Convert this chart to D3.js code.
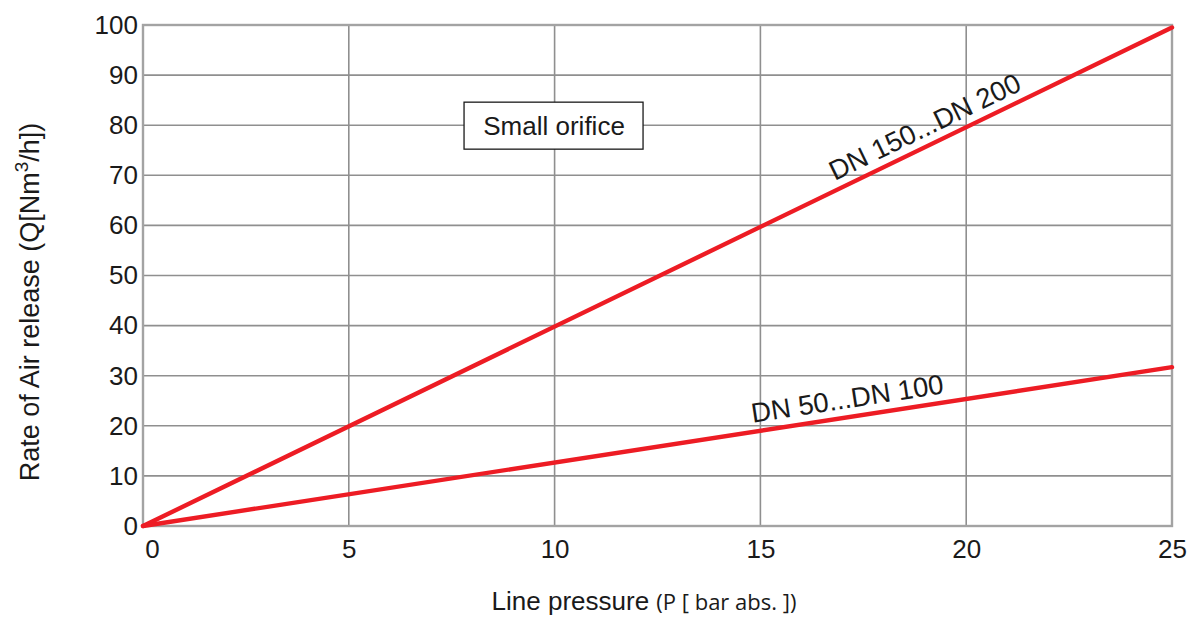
<!DOCTYPE html>
<html>
<head>
<meta charset="utf-8">
<script src="https://cdn.jsdelivr.net/npm/d3@7"></script>
<style>
  body { margin: 0; background: #fff; }
  svg { display: block; }
</style>
</head>
<body>
<script>
// chart data
var xTicks = [0, 5, 10, 15, 20, 25];
var yTicks = [0, 10, 20, 30, 40, 50, 60, 70, 80, 90, 100];
var seriesNames = ["DN 150...DN 200", "DN 50...DN 100"];
var pressure = [0, 25];
var flowLarge = [0, 99.5];
var flowSmall = [0, 31.7];
var labelAt = [16.9, 14.85];   // x value where each line label starts

var svgWidth = 1200, svgHeight = 617;
var margin = { top: 25, right: 28, bottom: 91, left: 143 };
var chartWidth = svgWidth - margin.left - margin.right;
var chartHeight = svgHeight - margin.top - margin.bottom;

var svg = d3.select("body").append("svg")
  .attr("width", svgWidth)
  .attr("height", svgHeight)
  .attr("font-family", "'Liberation Sans', Arial, sans-serif");

var g = svg.append("g")
  .attr("transform", `translate(${margin.left}, ${margin.top})`);

var x = d3.scaleLinear().domain([0, 25]).range([0, chartWidth]);
var y = d3.scaleLinear().domain([0, 100]).range([chartHeight, 0]);

// grid
g.append("g")
  .selectAll("line.v")
  .data(xTicks)
  .enter().append("line")
  .attr("x1", d => x(d)).attr("x2", d => x(d))
  .attr("y1", 0).attr("y2", chartHeight)
  .attr("stroke", "#8f8f8f")
  .attr("stroke-width", 1.6);

g.append("g")
  .selectAll("line.h")
  .data(yTicks)
  .enter().append("line")
  .attr("x1", 0).attr("x2", chartWidth)
  .attr("y1", d => y(d)).attr("y2", d => y(d))
  .attr("stroke", "#8f8f8f")
  .attr("stroke-width", 1.6);

// frame
g.append("rect")
  .attr("width", chartWidth).attr("height", chartHeight)
  .attr("fill", "none")
  .attr("stroke", "#a3a3a3")
  .attr("stroke-width", 2.4);

// axes (labels only)
var bottomAxis = d3.axisBottom(x).tickValues(xTicks).tickSize(0).tickPadding(14);
var leftAxis = d3.axisLeft(y).tickValues(yTicks).tickSize(0).tickPadding(5);

var xa = g.append("g")
  .attr("transform", `translate(0, ${chartHeight})`)
  .call(bottomAxis);
var ya = g.append("g").call(leftAxis);

[xa, ya].forEach(function(a) {
  a.select(".domain").remove();
  a.selectAll("text")
    .attr("font-size", 26)
    .attr("font-family", "'Liberation Sans', Arial, sans-serif")
    .attr("fill", "#1a1a1a");
});
xa.selectAll("text").filter(d => d === 0).attr("dx", 9);

// lines
var line = d3.line().x(d => x(d[0])).y(d => y(d[1]));
var series = [d3.zip(pressure, flowLarge), d3.zip(pressure, flowSmall)];

g.selectAll("path.series")
  .data(series)
  .enter().append("path")
  .attr("d", line)
  .attr("fill", "none")
  .attr("stroke", "#ed1c24")
  .attr("stroke-width", 4.4)
  .attr("stroke-linecap", "round");

// labels along lines
series.forEach(function(s, i) {
  var slope = (y(s[1][1]) - y(s[0][1])) / (x(s[1][0]) - x(s[0][0]));
  var angle = Math.atan(slope) * 180 / Math.PI;
  var lx = labelAt[i];
  var ly = s[0][1] + (s[1][1] - s[0][1]) * (lx - s[0][0]) / (s[1][0] - s[0][0]);
  g.append("text")
    .attr("transform", `translate(${x(lx)}, ${y(ly)}) rotate(${angle})`)
    .attr("dy", -9)
    .attr("font-size", 27.5)
    .attr("fill", "#1a1a1a")
    .text(seriesNames[i]);
});

// "Small orifice" box
var box = g.append("g").attr("transform", `translate(${x(7.8)}, ${y(84.6)})`);
box.append("rect")
  .attr("width", 179).attr("height", 47)
  .attr("fill", "#fff")
  .attr("stroke", "#1a1a1a")
  .attr("stroke-width", 1.3);
box.append("text")
  .attr("x", 90).attr("y", 33)
  .attr("text-anchor", "middle")
  .attr("font-size", 26)
  .attr("fill", "#1a1a1a")
  .text("Small orifice");

// axis titles
var xt = svg.append("text")
  .attr("x", 644).attr("y", 610)
  .attr("text-anchor", "middle")
  .attr("fill", "#1a1a1a");
xt.append("tspan").attr("font-size", 26).text("Line pressure ");
xt.append("tspan")
  .attr("font-size", 22)
  .attr("font-family", "'Open Sans', 'Noto Sans', sans-serif")
  .text("(P [ bar abs. ])");

var yt = svg.append("text")
  .attr("transform", "translate(39, 302) rotate(-90)")
  .attr("text-anchor", "middle")
  .attr("font-size", 27)
  .attr("fill", "#1a1a1a");
yt.append("tspan").text("Rate of Air release (Q[Nm");
yt.append("tspan").attr("font-size", 19).attr("dy", -11).text("3");
yt.append("tspan").attr("dy", 11).text("/h])");
</script>
</body>
</html>
